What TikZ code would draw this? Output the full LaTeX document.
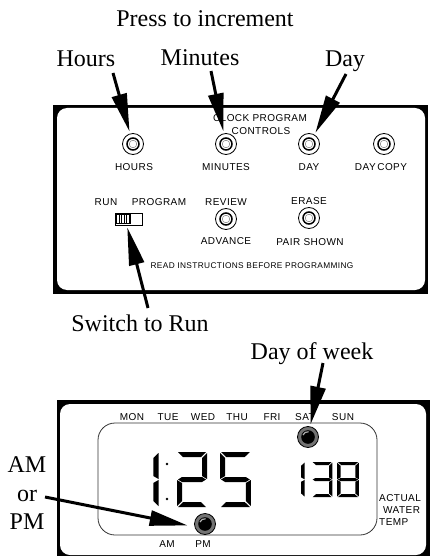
\documentclass[tikz,border=0pt]{standalone}
\usepackage{fontspec}
\setmainfont{Liberation Serif}
\newfontfamily\panelfont[LetterSpace=4.5]{Liberation Sans}
\usetikzlibrary{arrows.meta}
\tikzset{
  callout/.style={font=\fontsize{24}{26}\selectfont, inner sep=0pt, anchor=base},
  paneltext/.style={font=\panelfont\fontsize{10}{11}\selectfont, inner sep=0pt},
  smalltext/.style={font=\panelfont\fontsize{8.3}{10}\selectfont, inner sep=0pt},
  knob/.style={circle, draw=black, line width=0.8pt, minimum size=21pt, inner sep=0pt, fill=white},
  lamp/.style={circle, draw=black, line width=0.8pt, minimum size=21pt, inner sep=0pt, fill=black!55},
  pointer/.style={line width=3pt, -{Triangle[length=38pt,width=15pt]}, shorten >=2pt},
}
% one digit is a 30x55 box, segments named a to g
\def\sega{(1,0) -- (29,0) -- (24,5) -- (6,5) -- cycle}
\def\segb{(30,1) -- (30,27) -- (25,24) -- (25,6) -- cycle}
\def\segc{(30,28) -- (30,54) -- (25,49) -- (25,31) -- cycle}
\def\segd{(1,55) -- (6,50) -- (24,50) -- (29,55) -- cycle}
\def\sege{(0,28) -- (5,31) -- (5,49) -- (0,54) -- cycle}
\def\segf{(0,1) -- (5,6) -- (5,24) -- (0,27) -- cycle}
\def\segg{(1,27.5) -- (5,25) -- (25,25) -- (29,27.5) -- (25,30) -- (5,30) -- cycle}
\newcommand{\lcddigit}[5]{%
  \begin{scope}[shift={(#1,#2)}, xscale=#3, yscale=#4]
    \foreach \s in {#5} {\fill[black] \csname seg\s\endcsname;}
  \end{scope}}
\begin{document}
\begin{tikzpicture}[x=1pt,y=-1pt]
\useasboundingbox (0,0) rectangle (446,556);
% control panel
\fill[black] (53,105) rectangle (428,294);
\fill[white, rounded corners=10pt] (57,108) rectangle (425,290);
% display panel
\fill[black] (57,400) rectangle (430,556);
\fill[white, rounded corners=10pt] (60,404) rectangle (426,555);
\draw[line width=0.8pt, black!80, rounded corners=17pt] (98,423) rectangle (377,535);
% buttons
\foreach \n/\x/\y in {hours/133/144, minutes/226/144, day/309/144, daycopy/384/144, review/226/219, erase/309/218} {
  \node[knob] (\n btn) at (\x,\y) {};
  \draw[line width=1.5pt] (\x,\y) circle (6);
  \draw[line width=0.5pt, black!50] (\x,\y) circle (3.8);
}
% panel labels
\node[paneltext] (clocklbl) at (260,118) {CLOCK PROGRAM};
\node[paneltext] (controlslbl) at (261,131) {CONTROLS};
\node[paneltext] (hourscap) at (134,167) {HOURS};
\node[paneltext] (minutescap) at (226,167) {MINUTES};
\node[paneltext] (daycap) at (309,167) {DAY};
\node[paneltext] (daycopycap) at (381,167) {DAY\,COPY};
\node[paneltext] (runcap) at (106,202) {RUN};
\node[paneltext] (programcap) at (159,202) {PROGRAM};
\node[paneltext] (reviewcap) at (226,202) {REVIEW};
\node[paneltext] (erasecap) at (309,201) {ERASE};
\node[paneltext] (advancecap) at (226,241) {ADVANCE};
\node[paneltext] (paircap) at (310,242) {PAIR SHOWN};
\node[smalltext] (readcap) at (252,266) {READ INSTRUCTIONS BEFORE PROGRAMMING};
% run/program switch
\node[draw=black, line width=0.8pt, minimum width=27pt, minimum height=12pt, inner sep=0pt] (switch) at (128.5,219) {};
\draw[line width=1pt] (116.5,214.5) rectangle (130,223.5);
\foreach \x in {119,121.5,124,126.5,129} {
  \draw[line width=0.9pt] (\x,214.5) -- (\x,223.5);
}
% weekdays
\foreach \n/\x in {MON/132, TUE/168, WED/203, THU/237, FRI/272, SAT/305, SUN/343} {
  \node[paneltext] (\n cap) at (\x,417) {\n};
}
\node[paneltext] (amcap) at (167,544) {AM};
\node[paneltext] (pmcap) at (203,544) {PM};
\node[paneltext, anchor=west] (actualcap) at (379,498) {ACTUAL};
\node[paneltext, anchor=west] (watercap) at (383,510) {WATER};
\node[paneltext, anchor=west] (tempcap) at (379,522) {TEMP};
% time 1:25
\lcddigit{127}{452}{1.05}{1}{b,c}
\fill (167,464) circle (1.3);
\fill (167,499) circle (1.3);
\lcddigit{177}{452}{1}{1}{a,b,g,e,d}
\lcddigit{220}{452}{1.03}{1}{a,f,g,c,d}
% temperature 138
\lcddigit{283}{462}{0.72}{0.64}{b,c}
\lcddigit{312}{462}{0.68}{0.64}{a,b,g,c,d}
\lcddigit{337}{462}{0.73}{0.64}{a,b,c,d,e,f,g}
% lamps
\foreach \n/\x/\y in {daylamp/308/437, pmlamp/205/524} {
  \node[lamp] (\n) at (\x,\y) {};
  \fill[black] (\x,\y) circle (6.8);
  \draw[black!30, line width=1.2pt] (\x-5,\y-2) arc (200:280:5);
}
% callouts
\node[callout] (presslbl) at (205,27) {Press to increment};
\node[callout] (hourslbl) at (86,67) {Hours};
\node[callout] (minuteslbl) at (200,66) {Minutes};
\node[callout] (daylbl) at (345,67) {Day};
\node[callout] (runlbl) at (140,331) {Switch to Run};
\node[callout] (weeklbl) at (312,359) {Day of week};
\node[callout] (amlbl) at (27,472) {AM};
\node[callout] (orlbl) at (27,501) {or};
\node[callout] (pmlbl) at (27,529) {PM};
\coordinate (hoursfoot) at (113,73);
\coordinate (minutesfoot) at (211,71);
\coordinate (dayfoot) at (346,74);
\coordinate (runfoot) at (148,308);
\coordinate (weekfoot) at (323,363);
\coordinate (ampmfoot) at (45,497);
\draw[pointer] (hoursfoot) -- (hoursbtn);
\draw[pointer] (minutesfoot) -- (minutesbtn);
\draw[pointer] (dayfoot) -- (daybtn.60);
\draw[pointer] (runfoot) -- (switch.-105);
\draw[pointer] (weekfoot) -- (daylamp);
\draw[pointer, shorten >=7pt] (ampmfoot) -- (pmlamp.195);
\end{tikzpicture}
\end{document}
